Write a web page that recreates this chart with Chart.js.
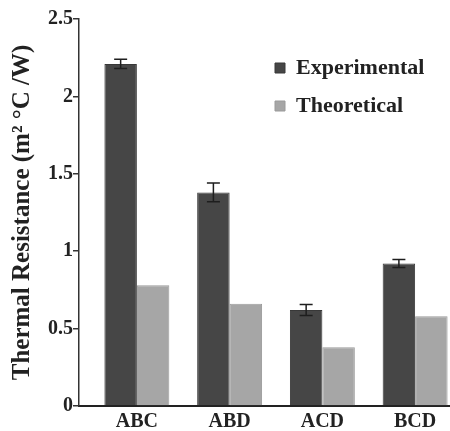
<!DOCTYPE html>
<html>
<head>
<meta charset="utf-8">
<script src="https://cdn.jsdelivr.net/npm/chart.js@4/dist/chart.umd.min.js"></script>
<style>
  html, body { margin: 0; padding: 0; background: #fff; }
  #wrap { width: 450px; height: 431px; }
</style>
</head>
<body>
<div id="wrap"><canvas id="chart"></canvas></div>
<script>
// data
const categories = ['ABC', 'ABD', 'ACD', 'BCD'];
const experimental = [2.21, 1.38, 0.62, 0.92];
const experimentalErr = [0.03, 0.06, 0.035, 0.026];
const theoretical = [0.78, 0.66, 0.38, 0.58];
const yTicks = [0, 0.5, 1, 1.5, 2, 2.5];

const serif = "'Liberation Serif', 'Times New Roman', serif";

// error bars on the experimental series
const errorBars = {
  id: 'errorBars',
  afterDatasetsDraw(chart) {
    const ctx = chart.ctx;
    const meta = chart.getDatasetMeta(0);
    const y = chart.scales.y;
    ctx.save();
    ctx.strokeStyle = '#1e1e1e';
    ctx.lineWidth = 1.5;
    meta.data.forEach((bar, i) => {
      const top = y.getPixelForValue(experimental[i] + experimentalErr[i]);
      const bot = y.getPixelForValue(experimental[i] - experimentalErr[i]);
      ctx.beginPath();
      ctx.moveTo(bar.x, top); ctx.lineTo(bar.x, bot);
      ctx.moveTo(bar.x - 6.5, top); ctx.lineTo(bar.x + 6.5, top);
      ctx.moveTo(bar.x - 6.5, bot); ctx.lineTo(bar.x + 6.5, bot);
      ctx.stroke();
    });
    ctx.restore();
  }
};

// put the legend at the upper right inside the plot
const legendSpot = {
  id: 'legendSpot',
  afterLayout(chart) {
    const lg = chart.legend;
    lg.left = 259; lg.right = 450;
    lg.top = 34; lg.bottom = 140;
  }
};

new Chart(document.getElementById('chart'), {
  type: 'bar',
  data: {
    datasets: [{
      label: 'Experimental',
      data: experimental.map((v, i) => ({ x: i, y: v })),
      backgroundColor: '#464646',
      borderColor: '#383838',
      borderWidth: 1
    }, {
      label: 'Theoretical',
      data: theoretical.map((v, i) => ({ x: i, y: v })),
      backgroundColor: '#a6a6a6',
      borderColor: '#9a9a9a',
      borderWidth: 1
    }]
  },
  options: {
    responsive: true,
    maintainAspectRatio: false,
    animation: false,
    categoryPercentage: 0.7,
    barPercentage: 1.0,
    layout: { padding: { top: 19, right: 0, bottom: 0, left: 0 } },
    plugins: {
      tooltip: { enabled: false },
      legend: {
        position: 'chartArea',
        labels: {
          boxWidth: 10, boxHeight: 10, padding: 16,
          color: '#222',
          font: { family: serif, size: 22, weight: 'bold' }
        }
      }
    },
    scales: {
      x: {
        type: 'linear',
        offset: false,
        min: -0.624, max: 3.376,
        afterBuildTicks: s => { s.ticks = categories.map((c, i) => ({ value: i })); },
        afterFit: s => { s.height = 25; },
        ticks: {
          padding: 4,
          color: '#222',
          font: { family: serif, size: 20, weight: 'bold' },
          callback: v => categories[v]
        },
        grid: { display: false, drawTicks: false },
        border: { color: '#222', width: 2 }
      },
      y: {
        min: 0, max: 2.5,
        afterBuildTicks: s => { s.ticks = yTicks.map(v => ({ value: v })); },
        afterFit: s => { s.width = 79; },
        ticks: {
          padding: 0,
          color: '#222',
          font: { family: serif, size: 20, weight: 'bold' },
          callback: v => String(v)
        },
        grid: { drawOnChartArea: false, drawTicks: true, tickLength: 6, color: '#333', lineWidth: 1.5 },
        border: { color: '#333', width: 1.5 },
        title: {
          display: true,
          text: 'Thermal Resistance (m² °C /W)',
          color: '#222',
          padding: { top: 8, bottom: 0 },
          font: { family: serif, size: 25, weight: 'bold' }
        }
      }
    }
  },
  plugins: [errorBars, legendSpot]
});
</script>
</body>
</html>
